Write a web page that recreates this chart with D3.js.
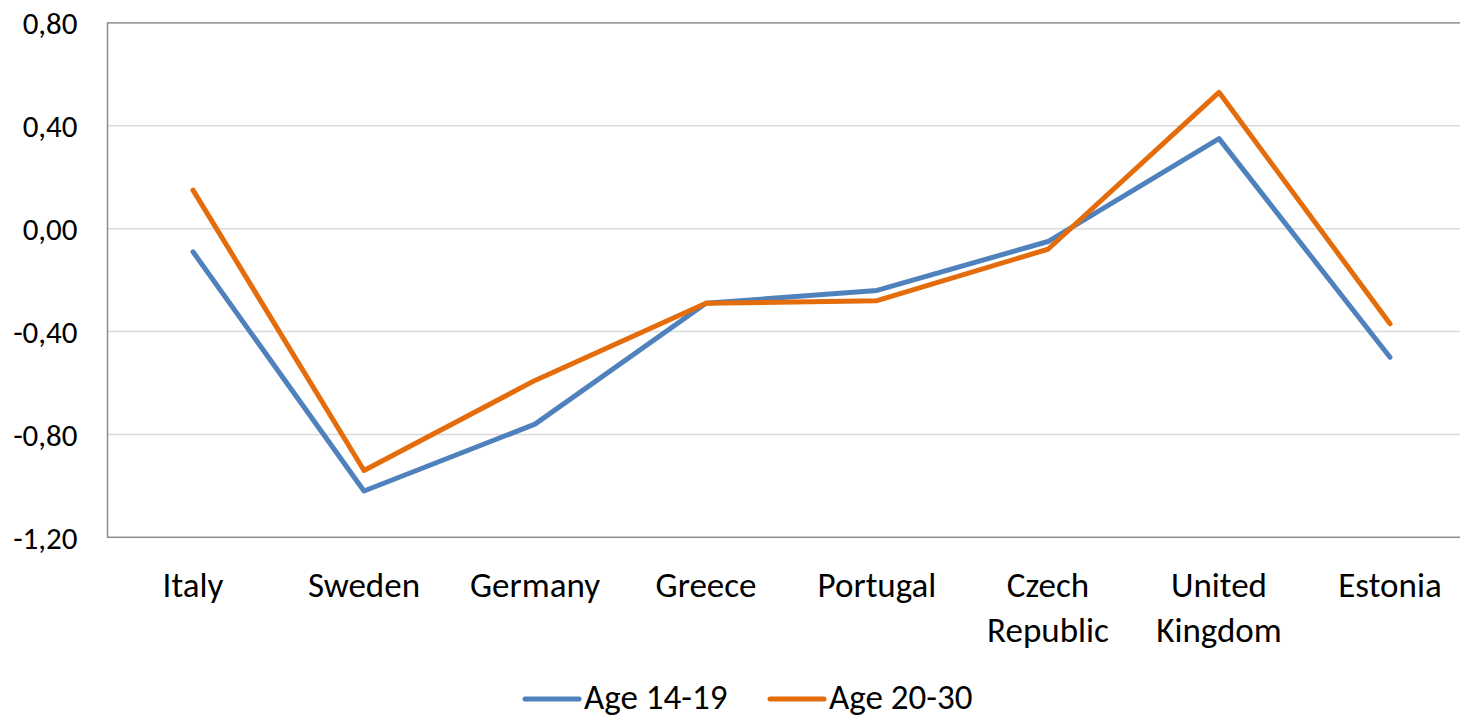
<!DOCTYPE html>
<html>
<head>
<meta charset="utf-8">
<script src="https://cdn.jsdelivr.net/npm/d3@7"></script>
<style>
  body { margin: 0; background: #fff; }
  svg { display: block; font-family: Carlito, Lato, "Open Sans", sans-serif; }
</style>
</head>
<body>
<div class="chart"></div>
<script>
// chart data
var countries = ["Italy", "Sweden", "Germany", "Greece", "Portugal", "Czech Republic", "United Kingdom", "Estonia"];
var age1419 = [-0.09, -1.02, -0.76, -0.29, -0.24, -0.05, 0.35, -0.50];
var age2030 = [0.15, -0.94, -0.59, -0.29, -0.28, -0.08, 0.53, -0.37];
var seriesNames = ["Age 14-19", "Age 20-30"];
var yTicks = [0.8, 0.4, 0.0, -0.4, -0.8, -1.2];

var colors = ["#4F81BD", "#E46C0A"];

var svgWidth = 1460;
var svgHeight = 717;

// plot box (right side runs off the picture)
var plot = { left: 107.5, right: 1475.5, top: 22.9, bottom: 537.3 };

var svg = d3.select(".chart")
  .append("svg")
  .attr("width", svgWidth)
  .attr("height", svgHeight);

var xScale = d3.scalePoint()
  .domain(countries)
  .range([plot.left, plot.right])
  .padding(0.5);

var yScale = d3.scaleLinear()
  .domain([-1.2, 0.8])
  .range([plot.bottom, plot.top]);

// gridlines
svg.append("g")
  .selectAll("line")
  .data(yTicks.slice(1, -1))
  .enter()
  .append("line")
  .attr("x1", plot.left)
  .attr("x2", plot.right)
  .attr("y1", d => yScale(d))
  .attr("y2", d => yScale(d))
  .attr("stroke", "#d9d9d9")
  .attr("stroke-width", 1.5);

// plot border
svg.append("rect")
  .attr("x", plot.left)
  .attr("y", yScale(0.8))
  .attr("width", plot.right - plot.left)
  .attr("height", yScale(-1.2) - yScale(0.8))
  .attr("fill", "none")
  .attr("stroke", "#8c8c8c")
  .attr("stroke-width", 1.5);

// y axis labels
var leftAxis = d3.axisLeft(yScale)
  .tickValues(yTicks)
  .tickSize(0)
  .tickPadding(30)
  .tickFormat(d => d3.format(".2f")(d).replace(".", ",").replace("−", "-"));

var yAxis = svg.append("g")
  .attr("transform", `translate(${plot.left}, 0)`)
  .call(leftAxis);
yAxis.select(".domain").remove();
yAxis.selectAll("text")
  .attr("font-size", 31)
  .attr("font-family", "Carlito, Lato, sans-serif")
  .attr("fill", "#000")
  .attr("dy", "0.35em");

// x axis labels (wrapped)
var xLabels = svg.append("g")
  .selectAll("text")
  .data(countries)
  .enter()
  .append("text")
  .attr("x", d => xScale(d))
  .attr("y", 597)
  .attr("text-anchor", "middle")
  .attr("font-size", 35)
  .attr("fill", "#000");

xLabels.each(function(d) {
  var words = d.split(" ");
  var t = d3.select(this);
  words.forEach(function(w, i) {
    t.append("tspan")
      .attr("x", xScale(d))
      .attr("dy", i === 0 ? 0 : 45)
      .text(w);
  });
});

// lines
var line = d3.line()
  .x((d, i) => xScale(countries[i]))
  .y(d => yScale(d));

[age1419, age2030].forEach(function(values, k) {
  svg.append("path")
    .datum(values)
    .attr("d", line)
    .attr("fill", "none")
    .attr("stroke", colors[k])
    .attr("stroke-width", 5)
    .attr("stroke-linejoin", "round")
    .attr("stroke-linecap", "round");
});

// legend
var legendX = [525, 770];
var legend = svg.append("g");
seriesNames.forEach(function(name, k) {
  legend.append("line")
    .attr("x1", legendX[k])
    .attr("x2", legendX[k] + 54)
    .attr("y1", 699)
    .attr("y2", 699)
    .attr("stroke", colors[k])
    .attr("stroke-width", 5)
    .attr("stroke-linecap", "round");
  legend.append("text")
    .attr("x", legendX[k] + 59)
    .attr("y", 709)
    .attr("font-size", 35)
    .attr("fill", "#000")
    .text(name);
});
</script>
</body>
</html>
